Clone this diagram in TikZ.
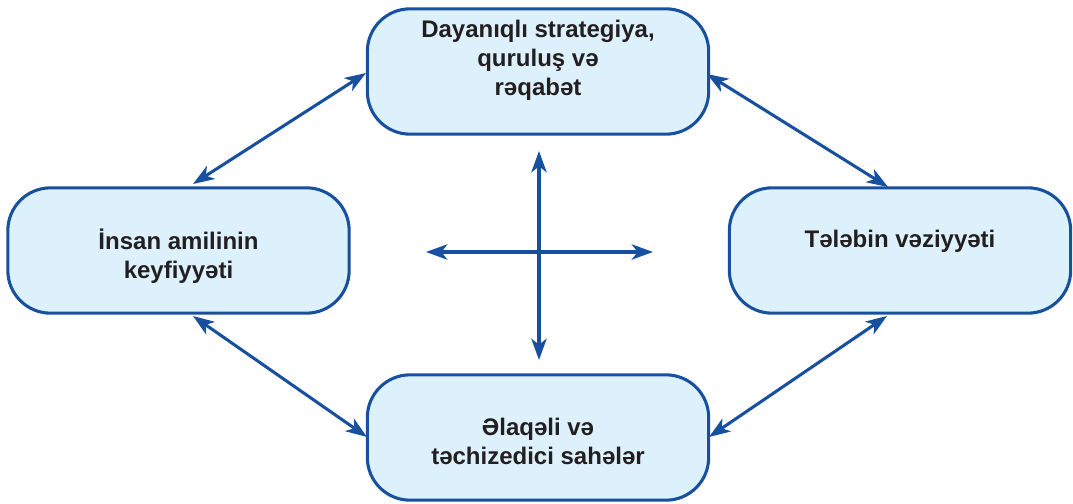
\documentclass[tikz,border=0pt]{standalone}
\usepackage{fontspec}
\setmainfont{Liberation Sans}
\usetikzlibrary{arrows.meta}
\definecolor{edgeblue}{RGB}{24,80,160}
\definecolor{boxfill}{RGB}{221,241,252}
\definecolor{txtgray}{RGB}{35,31,32}
\tikzset{
  box/.style={draw=edgeblue, line width=2.3pt, fill=boxfill, rounded corners=32pt, minimum width=256pt, minimum height=94pt, inner sep=0pt},
  txt/.style={align=center, text=txtgray, font=\bfseries\fontsize{18}{21.75}\selectfont, inner sep=0pt},
  link/.style={draw=edgeblue, line width=2.3pt, {Stealth[length=16pt,width=11.5pt,inset=4.5pt]}-{Stealth[length=16pt,width=11.5pt,inset=4.5pt]}}
}
\begin{document}
\begin{tikzpicture}[x=0.75pt,y=-0.75pt]
\useasboundingbox (0,0) rectangle (1073,503);
\node[box] (top) at (538,71.5) {};
\node[box] (left) at (178.5,250.5) {};
\node[box] (right) at (900,250.5) {};
\node[box] (bottom) at (538,437.5) {};
\node[txt] (toptext) at (538,60) {Dayanıqlı strategiya,\\quruluş və\\rəqabət};
\node[txt] (lefttext) at (178.5,256) {İnsan amilinin\\keyfiyyəti};
\node[txt] (righttext) at (900,241) {Tələbin vəziyyəti};
\node[txt] (bottomtext) at (538,441) {Əlaqəli və\\təchizedici sahələr};
\coordinate (tl1) at (193,184);
\coordinate (tl2) at (366,73);
\coordinate (tr1) at (707,74);
\coordinate (tr2) at (888,187);
\coordinate (bl1) at (193,316);
\coordinate (bl2) at (367,437);
\coordinate (br1) at (887,316);
\coordinate (br2) at (709,437);
\coordinate (vt) at (539,151);
\coordinate (vb) at (539,360);
\coordinate (hl) at (426,252);
\coordinate (hr) at (653,252);
\draw[link] (tl1) -- (tl2);
\draw[link] (tr1) -- (tr2);
\draw[link] (bl1) -- (bl2);
\draw[link] (br1) -- (br2);
\draw[link] (vt) -- (vb);
\draw[link] (hl) -- (hr);
\end{tikzpicture}
\end{document}
